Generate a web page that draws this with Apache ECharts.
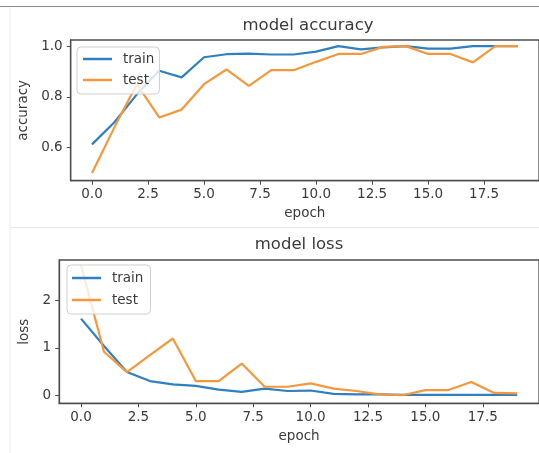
<!DOCTYPE html>
<html><head><meta charset="utf-8">
<script src="https://cdn.jsdelivr.net/npm/echarts@6/dist/echarts.min.js"></script>
<style>html,body{margin:0;padding:0;background:#fff}#c{width:539px;height:453px}</style>
</head><body><div id="c"></div>
<script>
const epochs = [0,1,2,3,4,5,6,7,8,9,10,11,12,13,14,15,16,17,18,19];
const accTrain = [0.613,0.70,0.81,0.903,0.877,0.956,0.968,0.970,0.967,0.967,0.978,1.0,0.987,0.995,1.0,0.99,0.99,1.0,1.0,1.0];
const accTest  = [0.50,0.68,0.85,0.719,0.75,0.85,0.908,0.843,0.905,0.905,0.938,0.969,0.969,0.997,1.0,0.969,0.969,0.936,1.0,1.0];
const lossTrain = [1.62,1.04,0.49,0.30,0.23,0.20,0.12,0.07,0.14,0.09,0.10,0.03,0.02,0.02,0.01,0.01,0.01,0.01,0.01,0.01];
const lossTest  = [2.75,0.92,0.49,0.85,1.20,0.30,0.30,0.67,0.18,0.18,0.25,0.14,0.09,0.02,0.00,0.11,0.11,0.28,0.05,0.04];
const xTicks = [0,2.5,5,7.5,10,12.5,15,17.5];
const accTicks = [0.6,0.8,1.0];
const lossTicks = [0,1,2];
const seriesNames = ['train','test'];

const FONT = 'DejaVu Sans';
const TXT = '#3a3a3a';
const FRAME = '#4d4d4d';
const BLUE = '#2f80c1';
const ORANGE = '#f7973c';

function pairs(vals){ return epochs.map((e,i)=>[e, vals[i]]); }

function xAxisCfg(gi){
  return {type:'value', gridIndex:gi, min:-0.95, max:19.95,
    name:'epoch', nameLocation:'middle', nameGap:26,
    nameTextStyle:{fontSize:13.5, color:TXT, fontFamily:FONT},
    axisLine:{show:true, onZero:false, lineStyle:{color:FRAME, width:1.3}},
    axisTick:{show:true, customValues:xTicks, length:4, lineStyle:{color:FRAME, width:1}},
    axisLabel:{customValues:xTicks, formatter:v=>v.toFixed(1), fontSize:13.5, color:TXT, fontFamily:FONT, margin:7},
    splitLine:{show:false}};
}
function yAxisCfg(gi, name, min, max, ticks, fmt, gap){
  return {type:'value', gridIndex:gi, min:min, max:max,
    name:name, nameLocation:'middle', nameGap:gap, nameRotate:90,
    nameTextStyle:{fontSize:13.5, color:TXT, fontFamily:FONT},
    axisLine:{show:true, onZero:false, lineStyle:{color:FRAME, width:1.3}},
    axisTick:{show:true, customValues:ticks, length:4, lineStyle:{color:FRAME, width:1}},
    axisLabel:{customValues:ticks, formatter:fmt, fontSize:13.5, color:TXT, fontFamily:FONT, margin:8},
    splitLine:{show:false}};
}
function legendCfg(left, top, pad, gap){
  return {left:left, top:top, orient:'vertical', data:seriesNames, icon:'rect',
    itemWidth:29, itemHeight:2.5, itemGap:gap, padding:pad,
    backgroundColor:'rgba(255,255,255,0.8)', borderColor:'#cfcfcf', borderWidth:1, borderRadius:4,
    textStyle:{fontSize:13.5, color:TXT, fontFamily:FONT, lineHeight:16, padding:[0,0,0,6]}};
}
function lineSeries(name, xi, data, color){
  return {type:'line', name:name, xAxisIndex:xi, yAxisIndex:xi, data:data, symbol:'none',
    lineStyle:{color:color, width:2.2}, itemStyle:{color:color}, animation:false};
}

const chart = echarts.init(document.getElementById('c'), null, {renderer:'canvas'});
chart.setOption({
  backgroundColor:'#fff',
  animation:false,
  title:[
    {text:'model accuracy', left:303, top:12, textAlign:'center', textStyle:{fontSize:16.5, fontWeight:'normal', color:TXT, fontFamily:FONT}},
    {text:'model loss', left:294, top:231, textAlign:'center', textStyle:{fontSize:16.5, fontWeight:'normal', color:TXT, fontFamily:FONT}}
  ],
  legend:[ legendCfg(77, 47, [4,5,6,6], 5), legendCfg(67, 265, [5,7,6,5], 6) ],
  grid:[
    {left:70.7, top:40, right:-6, bottom:272.3, show:true, borderColor:FRAME, borderWidth:1.3, backgroundColor:'transparent'},
    {left:59.2, top:260, right:-3, bottom:49.7, show:true, borderColor:FRAME, borderWidth:1.3, backgroundColor:'transparent'}
  ],
  xAxis:[ xAxisCfg(0), xAxisCfg(1) ],
  yAxis:[
    yAxisCfg(0, 'accuracy', 0.47, 1.024, accTicks, v=>v.toFixed(1), 38),
    yAxisCfg(1, 'loss', -0.17, 2.86, lossTicks, v=>String(Math.round(v)), 26)
  ],
  series:[
    lineSeries('train', 0, pairs(accTrain), BLUE),
    lineSeries('test', 0, pairs(accTest), ORANGE),
    lineSeries('train', 1, pairs(lossTrain), BLUE),
    lineSeries('test', 1, pairs(lossTest), ORANGE)
  ],
  graphic:[
    {type:'line', shape:{x1:0,y1:6.5,x2:539,y2:6.5}, style:{stroke:'#8a8a8a', lineWidth:1.2}, silent:true},
    {type:'line', shape:{x1:10,y1:7,x2:10,y2:453}, style:{stroke:'#efefef', lineWidth:1}, silent:true},
    {type:'line', shape:{x1:10,y1:227.5,x2:539,y2:227.5}, style:{stroke:'#e8e8e8', lineWidth:1}, silent:true}
  ]
});
</script>
</body></html>
